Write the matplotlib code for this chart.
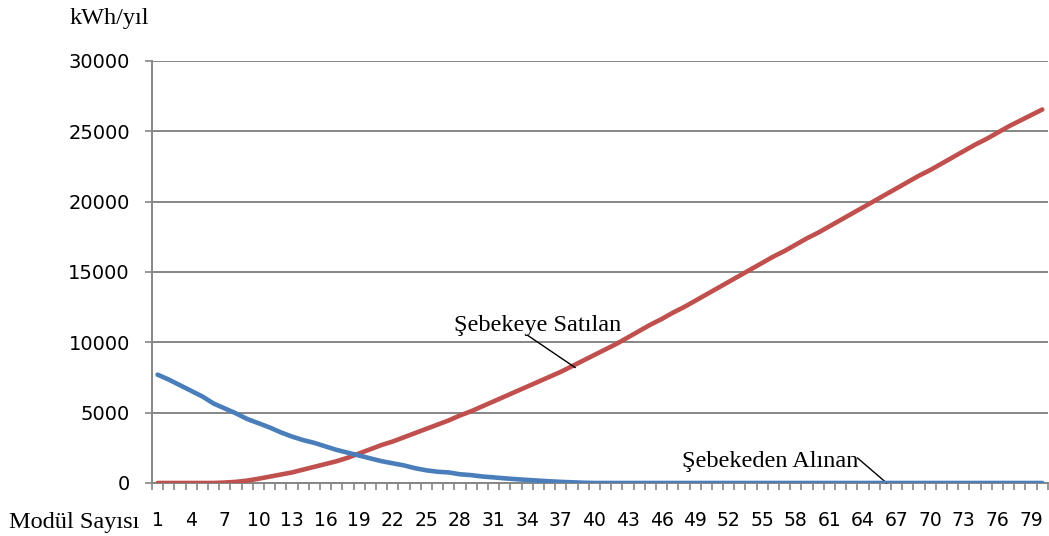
import matplotlib.pyplot as plt
import numpy as np

# data
modul = list(range(1, 81))
alinan = [7700, 7350, 6950, 6550, 6150, 5650, 5300, 4950, 4550, 4250,
          3950, 3600, 3300, 3050, 2850, 2600, 2350, 2150, 1950, 1750,
          1550, 1400, 1250, 1050, 900, 800, 750, 620, 560, 460,
          400, 330, 270, 220, 170, 120, 80, 50, 20] + [0] * 41
satilan = [0, 0, 0, 0, 0, 0, 30, 80, 170, 300,
           450, 600, 750, 950, 1150, 1350, 1550, 1800, 2100, 2400,
           2700, 2950, 3250, 3550, 3850, 4150, 4450, 4800, 5100, 5450,
           5800, 6150, 6500, 6850, 7200, 7550, 7900, 8300, 8700, 9100,
           9500, 9900, 10350, 10800, 11250, 11650, 12100, 12500, 12950, 13400,
           13850, 14300, 14750, 15200, 15650, 16100, 16500, 16950, 17400, 17800,
           18250, 18700, 19150, 19600, 20050, 20500, 20950, 21400, 21850, 22250,
           22700, 23150, 23600, 24050, 24450, 24900, 25350, 25750, 26150, 26550]
xlabels = list(range(1, 81, 3))
yticks = [0, 5000, 10000, 15000, 20000, 25000, 30000]

fig = plt.figure(figsize=(10.49, 5.36), dpi=100)
ax = fig.add_axes([0.1449, 0.0989, 0.854, 0.7873])

ax.plot(modul, satilan, color='#C0504D', lw=3.3, solid_capstyle='round', zorder=3)
ax.plot(modul, alinan, color='#4A7EBB', lw=3.3, solid_capstyle='round', zorder=4)

ax.set_xlim(0.5, 80.5)
ax.set_ylim(0, 30000)
ax.set_yticks(yticks)
ax.set_yticklabels([str(v) for v in yticks], fontsize=14, family='DejaVu Sans')
ax.set_xticks(xlabels)
ax.set_xticklabels([str(v) for v in xlabels], fontsize=13.5, family='DejaVu Sans')
ax.set_xticks(np.arange(0.5, 81, 1), minor=True)
ax.tick_params(axis='x', which='major', length=0, pad=20)
ax.tick_params(axis='x', which='minor', length=5, color='#868686', width=1.2)
ax.tick_params(axis='y', length=5, color='#868686', width=1.2, pad=11)

ax.grid(axis='y', color='#868686', lw=1.4)
ax.set_axisbelow(True)
for s in ['top', 'right']:
    ax.spines[s].set_visible(False)
for s in ['left', 'bottom']:
    ax.spines[s].set_color('#868686')
    ax.spines[s].set_linewidth(1.4)

serif = 'Liberation Serif'
fig.text(0.066, 0.966, 'kWh/yıl', family=serif, fontsize=17.5, va='center')
fig.text(0.009, 0.026, 'Modül Sayısı', family=serif, fontsize=17.5, va='center')

# series labels with leader lines
ax.text(34.9, 11230, 'Şebekeye Satılan', family=serif, fontsize=17.5, ha='center', va='center')
ax.annotate('', xy=(38.3, 8200), xytext=(34.0, 10520),
            arrowprops=dict(arrowstyle='-', color='black', lw=1.0, shrinkA=0, shrinkB=0))
ax.text(55.7, 1500, 'Şebekeden Alınan', family=serif, fontsize=17.5, ha='center', va='center')
ax.annotate('', xy=(66.1, 0), xytext=(63.5, 1780),
            arrowprops=dict(arrowstyle='-', color='black', lw=1.0, shrinkA=0, shrinkB=0))

plt.savefig('out.png', dpi=100)
